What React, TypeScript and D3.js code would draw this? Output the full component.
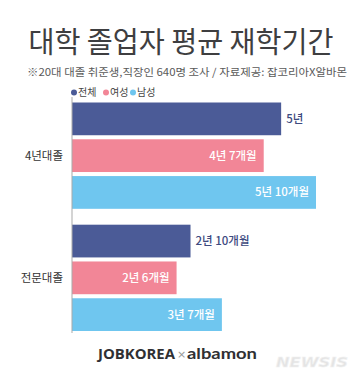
import React from "react";
import * as d3 from "d3";

const categories = ["4년대졸", "전문대졸"];
const seriesNames = ["전체", "여성", "남성"];
const seriesColors = ["#4b5b97", "#f28697", "#6fc6ef"];
// months
const values4yr = [60, 55, 70];
const values2yr = [34, 30, 43];
const labels4yr = ["5년", "4년 7개월", "5년 10개월"];
const labels2yr = ["2년 10개월", "2년 6개월", "3년 7개월"];
const insideLabel4yr = [false, true, true];
const insideLabel2yr = [false, true, true];

const W = 364;
const H = 382;
const FONT = "'Noto Sans CJK KR', 'Noto Sans', sans-serif";

export default function App() {
  const x = d3.scaleLinear().domain([0, 70]).range([72, 316]);
  const yOuter = d3.scaleBand<string>().domain(categories).range([102.5, 331]).paddingInner(0.13).paddingOuter(0);
  const yInner = d3.scaleBand<string>().domain(seriesNames).range([0, yOuter.bandwidth()]).paddingInner(0.11).paddingOuter(0);

  const groups = [
    { cat: categories[0], vals: values4yr, labels: labels4yr, inside: insideLabel4yr },
    { cat: categories[1], vals: values2yr, labels: labels2yr, inside: insideLabel2yr },
  ];

  const legendX = [74, 106, 133];

  return (
    <div style={{ position: "absolute", left: 0, top: 0 }}>
      <svg width={W} height={H} style={{ display: "block", background: "#fff" }} fontFamily={FONT}>
        <rect width={W} height={H} fill="#fff" />
        <text x={181} y={53} textAnchor="middle" fontSize={29} fill="#3e3e40" fontWeight={400} textLength={305} lengthAdjust="spacingAndGlyphs">
          대학 졸업자 평균 재학기간
        </text>
        <text x={187} y={76} textAnchor="middle" fontSize={10.5} fill="#5a5a5a" textLength={320} lengthAdjust="spacingAndGlyphs">
          ※20대 대졸 취준생,직장인 640명 조사 / 자료제공: 잡코리아X알바몬
        </text>
        {seriesNames.map((s, i) => (
          <g key={s}>
            <circle cx={legendX[i]} cy={92.5} r={3} fill={seriesColors[i]} />
            <text x={legendX[i] + 4} y={96} fontSize={10} fill="#444">{s}</text>
          </g>
        ))}
        {groups.map((g) => {
          const gy = yOuter(g.cat)!;
          return (
            <g key={g.cat}>
              <text x={63} y={gy + yOuter.bandwidth() / 2 + 4} textAnchor="end" fontSize={11.5} fill="#333">
                {g.cat}
              </text>
              {seriesNames.map((s, i) => {
                const by = gy + yInner(s)!;
                const bw = yInner.bandwidth();
                const xe = x(g.vals[i]);
                return (
                  <g key={s}>
                    <rect x={x(0)} y={by} width={xe - x(0)} height={bw} fill={seriesColors[i]} />
                    <text
                      x={g.inside[i] ? xe - 7 : xe + 5}
                      y={by + bw / 2 + 4}
                      textAnchor={g.inside[i] ? "end" : "start"}
                      fontSize={11.5}
                      fontWeight={500}
                      fill={g.inside[i] ? "#ffffff" : "#3d4a80"}
                    >
                      {g.labels[i]}
                    </text>
                  </g>
                );
              })}
            </g>
          );
        })}
        <line x1={72} x2={72} y1={97} y2={333} stroke="#a9a9a9" strokeWidth={1} />
        <text x={98} y={359} fontSize={15} fontWeight={700} fill="#2f3033" fontFamily="'Open Sans', 'DejaVu Sans', sans-serif" textLength={77} lengthAdjust="spacingAndGlyphs">
          JOBKOREA
        </text>
        <text x={177} y={358} fontSize={11} fill="#999" fontFamily="'DejaVu Sans', sans-serif">×</text>
        <text x={187} y={359} fontSize={16} fontWeight={700} fill="#2f3033" fontFamily="'Lato', 'Open Sans', sans-serif" textLength={70} lengthAdjust="spacingAndGlyphs">
          albamon
        </text>
        <text x={276} y={367} fontSize={14} fontWeight={900} fontStyle="italic" fill="#e4e4e4" stroke="#f2f2f2" strokeWidth={0.6} fontFamily="'DejaVu Sans', sans-serif" textLength={72} lengthAdjust="spacingAndGlyphs">
          NEWSIS
        </text>
      </svg>
    </div>
  );
}
